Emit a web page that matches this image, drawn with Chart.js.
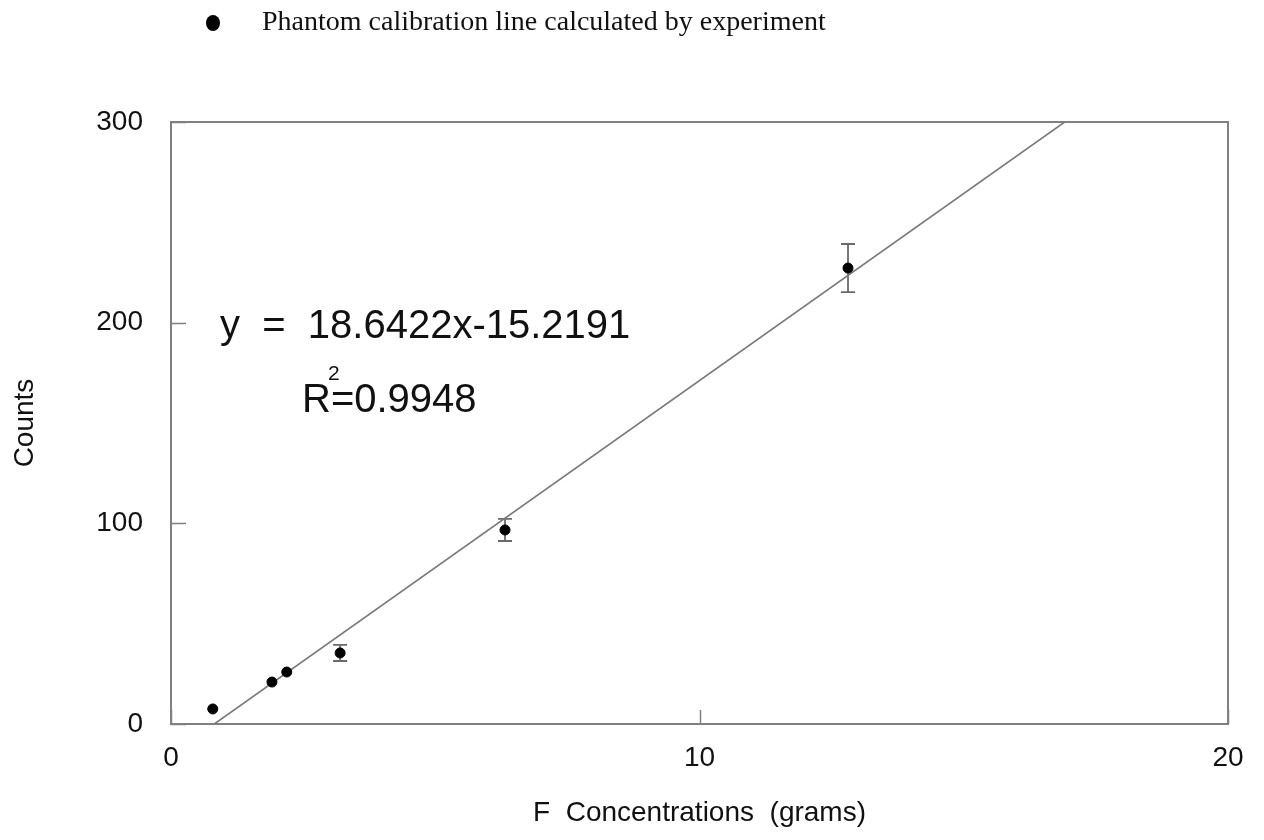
<!DOCTYPE html>
<html>
<head>
<meta charset="utf-8">
<script src="https://cdn.jsdelivr.net/npm/chart.js@4.4.1/dist/chart.umd.min.js"></script>
<style>
  html, body { margin: 0; padding: 0; background: #ffffff; }
  #wrap { width: 1264px; height: 840px; }
</style>
</head>
<body>
<div id="wrap"><canvas id="c" width="1264" height="840"></canvas></div>
<script>
// ---- data ----
const concentrations = [0.79, 1.91, 2.19, 3.2, 6.32, 12.81];
const counts = [7.5, 20.9, 25.9, 35.4, 96.7, 227.2];
const countErrors = [0, 0, 0, 4, 5.5, 12];
const fitX = [0.82, 16.91];
const fitY = [0, 300];
const xTicks = [0, 10, 20];
const yTicks = [0, 100, 200, 300];
const seriesLabel = 'Phantom calibration line calculated by experiment';
const equationText = 'y  =  18.6422x-15.2191';
const r2Text = 'R=0.9948';

const sans = '"Liberation Sans", Arial, sans-serif';
const serif = '"Liberation Serif", "Times New Roman", serif';

const pointData = concentrations.map((x, i) => ({ x: x, y: counts[i], err: countErrors[i] }));
const fitData = fitX.map((x, i) => ({ x: x, y: fitY[i] }));

const frame = {
  id: 'frame',
  beforeDatasetsDraw(chart) {
    const { ctx, chartArea: a, scales } = chart;
    ctx.save();
    ctx.strokeStyle = '#808080';
    ctx.lineWidth = 2;
    ctx.strokeRect(a.left, a.top, a.right - a.left, a.bottom - a.top);
    // inner ticks
    ctx.beginPath();
    yTicks.forEach(v => {
      const py = Math.round(scales.y.getPixelForValue(v)) + 0.5;
      ctx.moveTo(a.left, py); ctx.lineTo(a.left + 15, py);
    });
    xTicks.forEach(v => {
      const px = Math.round(scales.x.getPixelForValue(v)) + 0.5;
      ctx.moveTo(px, a.bottom); ctx.lineTo(px, a.bottom - 14);
    });
    ctx.lineWidth = 1.5;
    ctx.stroke();
    // error bars
    ctx.strokeStyle = '#6a6a6a';
    ctx.lineWidth = 1.8;
    pointData.forEach(p => {
      if (!p.err) return;
      const px = scales.x.getPixelForValue(p.x);
      const top = scales.y.getPixelForValue(p.y + p.err);
      const bot = scales.y.getPixelForValue(p.y - p.err);
      ctx.beginPath();
      ctx.moveTo(px, top); ctx.lineTo(px, bot);
      ctx.moveTo(px - 7, top); ctx.lineTo(px + 7, top);
      ctx.moveTo(px - 7, bot); ctx.lineTo(px + 7, bot);
      ctx.stroke();
    });
    ctx.restore();
  },
  afterDraw(chart) {
    const { ctx } = chart;
    ctx.save();
    // legend
    ctx.fillStyle = '#000';
    ctx.beginPath();
    ctx.ellipse(213, 23, 7, 8, 0, 0, Math.PI * 2);
    ctx.fill();
    ctx.font = '28px ' + serif;
    ctx.fillStyle = '#111';
    ctx.textBaseline = 'middle';
    ctx.textAlign = 'left';
    ctx.fillText(seriesLabel, 262, 23);
    // equation
    ctx.font = '40px ' + sans;
    ctx.textBaseline = 'alphabetic';
    ctx.fillText(equationText, 220, 338);
    ctx.fillText(r2Text, 302, 412);
    ctx.font = '21px ' + sans;
    ctx.fillText('2', 328, 380);
    ctx.restore();
  }
};

new Chart(document.getElementById('c'), {
  type: 'scatter',
  data: {
    datasets: [
      {
        label: seriesLabel,
        data: pointData,
        backgroundColor: '#000',
        borderColor: '#000',
        pointRadius: 5,
        pointHoverRadius: 5,
        order: 0
      },
      {
        type: 'line',
        label: 'fit',
        data: fitData,
        borderColor: '#7a7a7a',
        borderWidth: 1.6,
        pointRadius: 0,
        fill: false,
        order: 1
      }
    ]
  },
  options: {
    responsive: false,
    animation: false,
    events: [],
    layout: { padding: { top: 122, right: 36, left: 0, bottom: 0 } },
    plugins: { legend: { display: false }, tooltip: { enabled: false } },
    scales: {
      x: {
        type: 'linear',
        min: 0, max: 20,
        afterBuildTicks(scale) { scale.ticks = xTicks.map(v => ({ value: v })); },
        afterFit(scale) { scale.height = 116; },
        grid: { display: false, drawTicks: false },
        border: { display: false },
        ticks: { color: '#111', font: { family: sans, size: 28 }, padding: 17, maxRotation: 0 },
        title: {
          display: true,
          text: 'F  Concentrations  (grams)',
          color: '#111',
          font: { family: sans, size: 28 },
          padding: { top: 0, bottom: 10 }
        }
      },
      y: {
        type: 'linear',
        min: 0, max: 300,
        afterBuildTicks(scale) { scale.ticks = yTicks.map(v => ({ value: v })); },
        afterFit(scale) { scale.width = 171; },
        grid: { display: false, drawTicks: false },
        border: { display: false },
        ticks: { color: '#111', font: { family: sans, size: 28 }, padding: 28 },
        title: {
          display: true,
          text: 'Counts',
          color: '#111',
          font: { family: sans, size: 28 },
          padding: { top: 8, bottom: 0 }
        }
      }
    }
  },
  plugins: [frame]
});
</script>
</body>
</html>
